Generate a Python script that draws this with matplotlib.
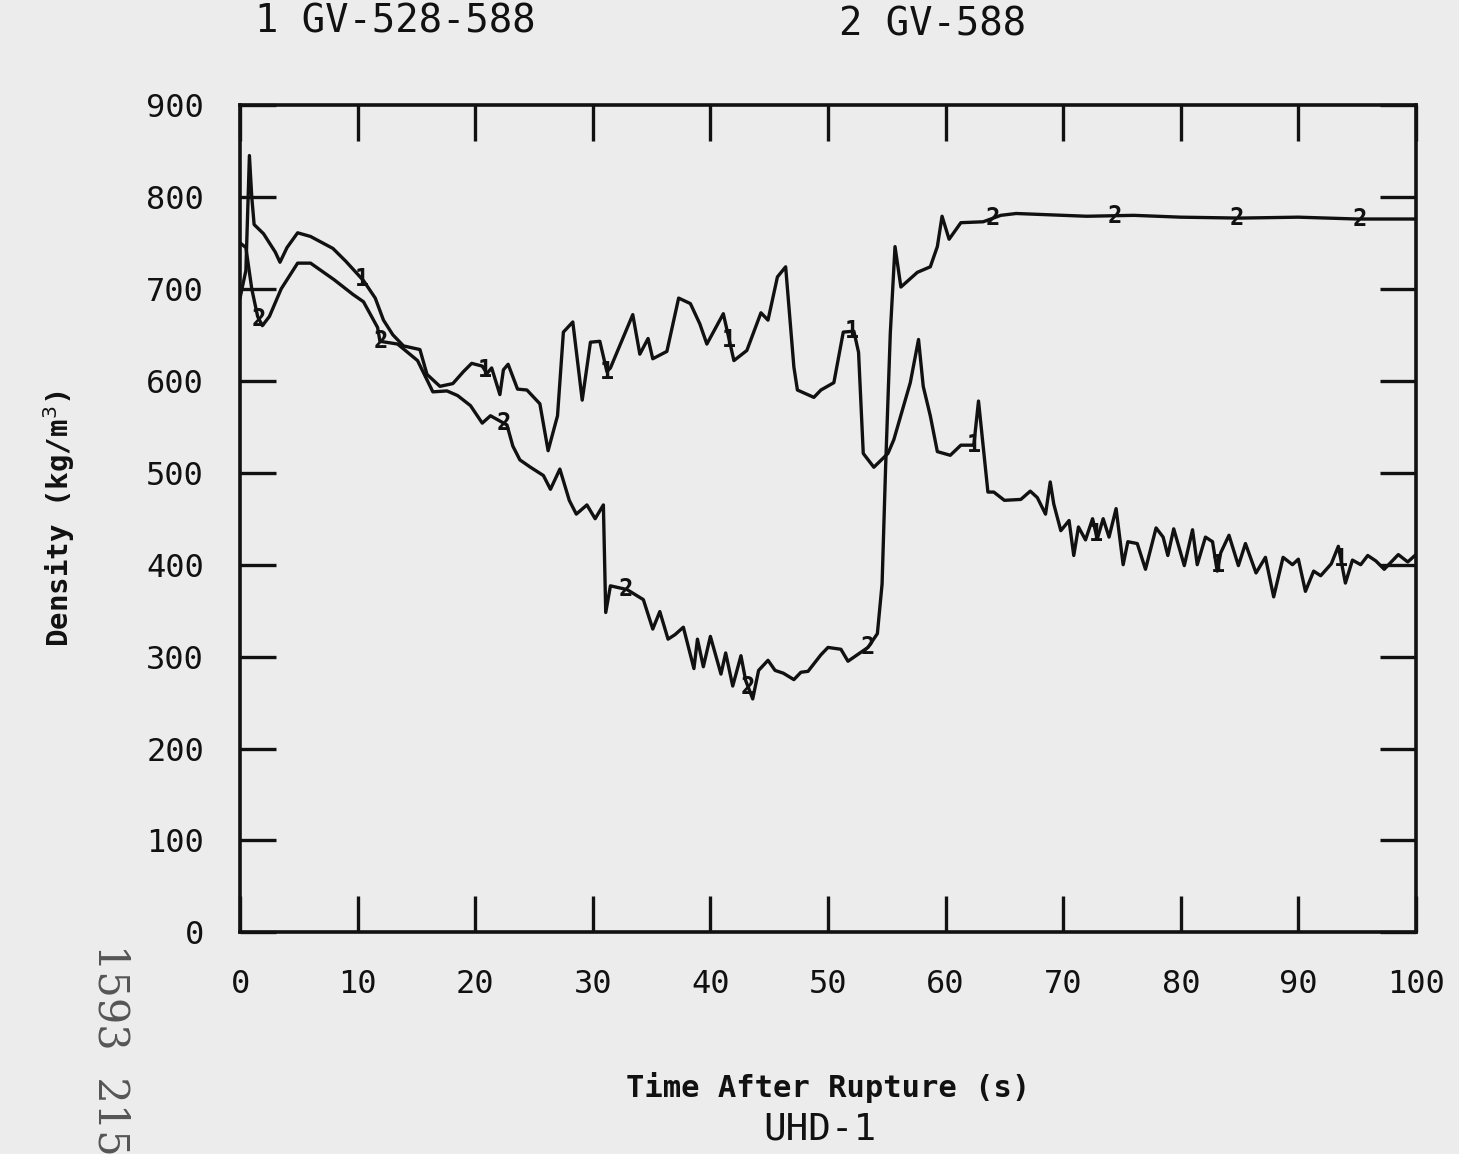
import numpy as np
import matplotlib
matplotlib.use("Agg")
import matplotlib.pyplot as plt

# ---- data ----
t1 = [0, 0.5, 0.8, 1.0, 1.2, 2.0, 3.0, 3.4, 4.0, 4.9, 6.0, 7.9, 9.0, 10.5, 11.5, 12.2,
      13.0, 13.9, 15.3, 15.9, 17.0, 18.1, 19.0, 19.7, 20.6, 21.0, 21.4, 22.1, 22.4, 22.8,
      23.6, 24.4, 25.5, 26.2, 27.0, 27.5, 28.3, 29.1, 29.8, 30.6, 31.2, 31.5, 33.4, 34.0,
      34.7, 35.1, 36.3, 37.3, 38.3, 39.1, 39.7, 41.1, 42.0, 43.1, 44.3, 44.9, 45.7, 46.4,
      47.1, 47.4, 48.8, 49.4, 50.5, 51.3, 52.2, 52.6, 53.0, 53.9, 55.1, 55.6, 57.0, 57.7,
      58.1, 58.7, 59.3, 60.4, 61.3, 62.4, 62.8, 63.6, 64.1, 65.0, 66.4, 67.2, 67.8, 68.5,
      68.9, 69.2, 69.8, 70.5, 70.9, 71.3, 71.9, 72.5, 72.9, 73.4, 73.9, 74.5, 75.1, 75.5,
      76.3, 77.0, 77.9, 78.5, 78.9, 79.4, 80.3, 81.0, 81.4, 82.1, 82.7, 83.1, 83.4, 84.1,
      84.9, 85.5, 86.4, 87.2, 87.9, 88.7, 89.5, 90.0, 90.6, 91.3, 91.9, 92.8, 93.4, 94.0,
      94.6, 95.3, 95.9, 96.6, 97.3, 97.9, 98.5, 99.3, 100]
gv528_588 = [690, 720, 845, 800, 770, 760, 740, 729, 745, 761, 757, 744, 730, 709, 690, 666,
             650, 638, 634, 607, 594, 597, 610, 619, 616, 608, 614, 585, 612, 618,
             591, 590, 575, 524, 562, 653, 664, 579, 642, 643, 610, 614, 672, 629,
             646, 624, 632, 690, 684, 662, 640, 673, 622, 633, 674, 666, 713, 724,
             615, 590, 582, 590, 598, 653, 654, 631, 521, 506, 521, 536, 598, 645,
             594, 562, 523, 519, 530, 530, 578, 479, 479, 470, 471, 480, 473, 455,
             490, 466, 437, 448, 410, 441, 427, 450, 428, 450, 430, 461, 400, 425,
             423, 395, 440, 430, 410, 439, 399, 438, 400, 430, 425, 393, 413, 432,
             399, 423, 391, 408, 365, 408, 400, 406, 371, 393, 388, 401, 420, 380,
             405, 400, 410, 404, 395, 403, 411, 403, 411]

t2 = [0, 0.5, 1.0, 1.5, 1.9, 2.5, 3.5, 4.9, 6.0, 8.0, 9.6, 10.5, 11.7, 11.9, 13.4, 15.1,
      16.4, 17.6, 18.5, 19.6, 20.6, 21.3, 22.7, 23.2, 23.8, 24.7, 25.8, 26.4, 27.2, 28.0,
      28.6, 29.5, 30.2, 30.9, 31.1, 31.5, 32.9, 34.3, 35.1, 35.7, 36.4, 37.0, 37.7, 38.6,
      38.9, 39.4, 40.0, 40.9, 41.3, 41.9, 42.6, 43.0, 43.6, 44.1, 44.9, 45.5, 46.2, 47.1,
      47.7, 48.3, 49.4, 50.0, 51.1, 51.7, 53.4, 54.2, 54.6, 54.9, 55.3, 55.7, 56.2, 57.6,
      58.7, 59.3, 59.7, 60.3, 61.3, 63.2, 64.7, 66.0, 68.0, 72.0, 76.0, 80.0, 85.0, 90.0,
      95.0, 100]
gv588 = [750, 745, 700, 670, 660, 670, 700, 728, 728, 710, 694, 686, 658, 643, 640, 622,
         588, 589, 584, 573, 554, 562, 552, 529, 514, 506, 497, 482, 504, 470,
         455, 465, 450, 465, 348, 377, 373, 362, 330, 349, 319, 324, 332, 287,
         319, 289, 322, 281, 304, 268, 301, 274, 254, 285, 296, 285, 282, 275,
         283, 284, 302, 310, 308, 295, 310, 325, 379, 506, 652, 746, 702, 718,
         724, 746, 779, 754, 772, 773, 780, 782, 781, 779, 780, 778, 777, 778,
         776, 776]

label_times_1 = [10.4, 20.8, 31.2, 41.6, 52.0, 62.4, 72.8, 83.2, 93.6]
label_times_2 = [1.6, 12.0, 22.4, 32.8, 43.2, 53.4, 64.0, 74.4, 84.8, 95.2]

x_ticks = [0, 10, 20, 30, 40, 50, 60, 70, 80, 90, 100]
y_ticks = [0, 100, 200, 300, 400, 500, 600, 700, 800, 900]

series_names = ["1 GV-528-588", "2 GV-588"]

# ---- drawing ----
bg = "#ececec"
ink = "#111111"
mono = ["DejaVu Sans Mono"]

fig = plt.figure(figsize=(14.59, 11.54), dpi=100, facecolor=bg)
ax = fig.add_axes([0.1645, 0.192, 0.806, 0.717])
ax.set_facecolor(bg)

ax.plot(t1, gv528_588, color=ink, lw=2.4, solid_joinstyle="round")
ax.plot(t2, gv588, color=ink, lw=2.4, solid_joinstyle="round")

for tt in label_times_1:
    ax.text(tt, np.interp(tt, t1, gv528_588), "1", ha="center", va="center",
            fontsize=17, family=mono, color=ink, fontweight="bold")
for tt in label_times_2:
    ax.text(tt, np.interp(tt, t2, gv588), "2", ha="center", va="center",
            fontsize=17, family=mono, color=ink, fontweight="bold")

ax.set_xlim(0, 100)
ax.set_ylim(0, 900)
ax.set_xticks(x_ticks)
ax.set_yticks(y_ticks)
ax.set_xticklabels([str(v) for v in x_ticks], family=mono, fontsize=23)
ax.set_yticklabels([str(v) for v in y_ticks], family=mono, fontsize=23)
ax.tick_params(direction="in", length=26, width=2.4, colors=ink,
               top=True, right=True, labeltop=False, labelright=False)
ax.tick_params(axis="x", pad=26)
ax.tick_params(axis="y", pad=26)
for s in ax.spines.values():
    s.set_linewidth(2.6)
    s.set_color(ink)

ax.set_ylabel("Density (kg/m$^3$)", family=mono, fontsize=21, fontweight="bold",
              labelpad=50, color=ink)
ax.set_xlabel("Time After Rupture (s)", family=mono, fontsize=22, fontweight="bold",
              labelpad=52, color=ink)

fig.text(0.175, 0.981, series_names[0], family=mono, fontsize=28,
         ha="left", va="center", color=ink)
fig.text(0.575, 0.979, series_names[1], family=mono, fontsize=28,
         ha="left", va="center", color=ink)
fig.text(0.562, 0.021, "UHD-1", family=mono, fontsize=27,
         ha="center", va="center", color=ink)

fig.text(0.076, 0.09, "1593  215", family=["DejaVu Serif"], fontsize=30,
         rotation=270, ha="center", va="center", color="#555555")

fig.savefig("out.png", dpi=100, facecolor=bg)
